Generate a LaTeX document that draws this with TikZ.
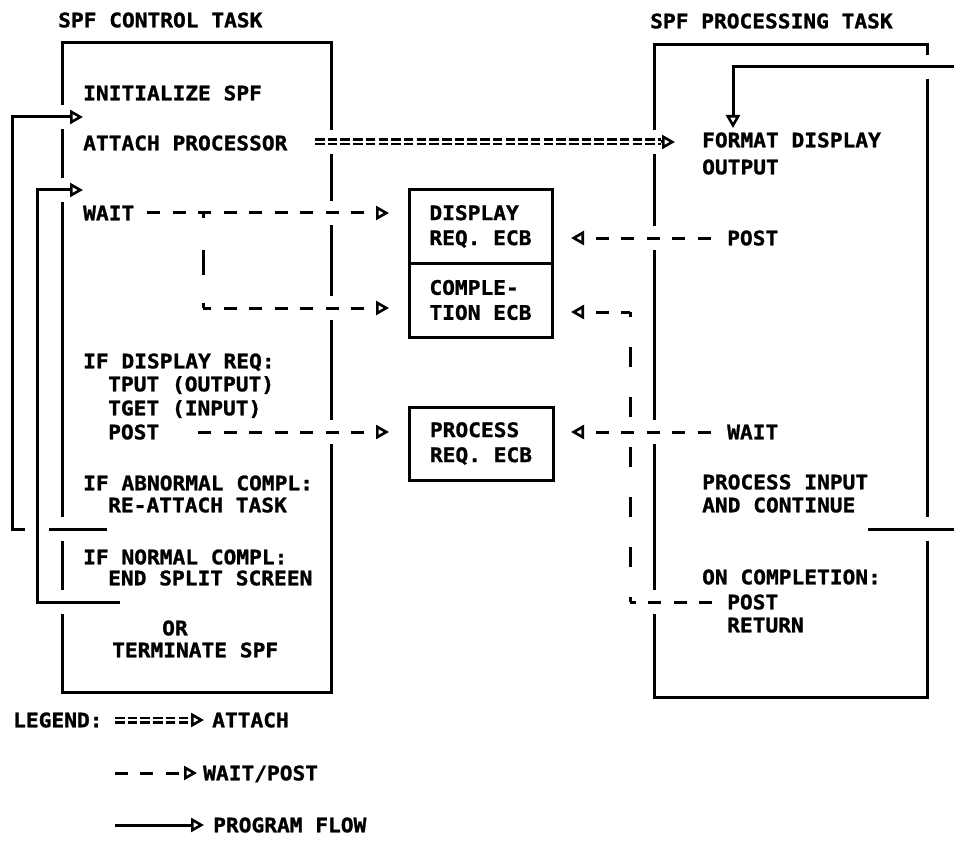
\documentclass[tikz,border=0pt]{standalone}
\usepackage{fontspec}
\usetikzlibrary{arrows.meta}
\newfontfamily\plotfont{DejaVu Sans Mono}[FakeStretch=1.06, BoldFeatures={FakeBold=1.2}]
\newcommand\plotlbl{\plotfont\bfseries\fontsize{20}{25}\selectfont}
\tikzset{
  >={Triangle[open,length=13pt,width=14pt,line width=2.6pt]},
  ln/.style={line width=3pt},
  taskbox/.style={draw, ln, inner sep=0pt},
  ecb/.style={draw, ln, inner sep=0pt, align=left, font=\plotlbl},
  txt/.style={anchor=west, inner sep=0pt, text height=14.6pt, text depth=0pt, font=\plotlbl},
  halo/.style={preaction={draw=white, solid, line width=24pt, arrows=-}},
  flow/.style={ln, ->},
  wpline/.style={ln, dash pattern=on 13pt off 12.5pt, dash phase=13pt},
  wparrow/.style={wpline, <-},
  eqline/.style={preaction={draw=white, line width=24pt},
    postaction={draw, double=white, double distance=2.2pt, line width=2.4pt,
      dash pattern=on 9.5pt off 3.2pt}},
}
\begin{document}
\begin{tikzpicture}[x=1pt,y=-1pt]
\fill[white] (0,0) rectangle (954,848);
\useasboundingbox (0,0) rectangle (954,848);

% the two tasks
\node[taskbox, minimum width=269pt, minimum height=649pt] (ctl) at (196.5,367.5) {};
\node[taskbox, minimum width=273pt, minimum height=652pt] (prc) at (790.5,371) {};

% event control blocks
\node[ecb, minimum width=143pt, minimum height=73pt] (dsp) at (480.5,226.5) {DISPLAY\\REQ. ECB};
\node[ecb, minimum width=143pt, minimum height=74pt] (cmp) at (480.5,300) {COMPLE-\\TION ECB};
\node[ecb, minimum width=144pt, minimum height=73pt] (prq) at (481,443.5) {PROCESS\\REQ. ECB};

% titles
\node[txt] (tctl) at (58,20) {SPF CONTROL TASK};
\node[txt] (tprc) at (650,21) {SPF PROCESSING TASK};

% control task steps
\node[txt] (init) at (83,93) {INITIALIZE SPF};
\node[txt] (att) at (83,143) {ATTACH PROCESSOR};
\node[txt] (wt1) at (83,213) {WAIT};
\node[txt] (ifd) at (83,361) {IF DISPLAY REQ:};
\node[txt] (tput) at (108,384) {TPUT (OUTPUT)};
\node[txt] (tget) at (108,408) {TGET (INPUT)};
\node[txt] (pst1) at (108,432) {POST};
\node[txt] (ifab) at (83,483) {IF ABNORMAL COMPL:};
\node[txt] (reat) at (108,505) {RE-ATTACH TASK};
\node[txt] (ifn) at (83,557) {IF NORMAL COMPL:};
\node[txt] (ends) at (108,578) {END SPLIT SCREEN};
\node[txt] (orr) at (162,628) {OR};
\node[txt] (term) at (112,650) {TERMINATE SPF};

% processing task steps
\node[txt] (fmt) at (702,140) {FORMAT DISPLAY};
\node[txt] (outp) at (702,167) {OUTPUT};
\node[txt] (pst2) at (727,238) {POST};
\node[txt] (wt2) at (727,432) {WAIT};
\node[txt] (pin) at (702,482) {PROCESS INPUT};
\node[txt] (cont) at (702,505) {AND CONTINUE};
\node[txt] (onc) at (702,577) {ON COMPLETION:};
\node[txt] (pst3) at (727,602) {POST};
\node[txt] (ret) at (727,625) {RETURN};

% connector end points
\coordinate (aS) at (315,142); \coordinate (aB) at (661,142); \coordinate (aT) at (675,142);
\coordinate (rS) at (868,529); \coordinate (rT) at (733,128);
\coordinate (oS) at (107,529); \coordinate (oT) at (83,117);
\coordinate (iS) at (120,602); \coordinate (iT) at (83,190);
\coordinate (w1S) at (147,213); \coordinate (w1T) at (389,213);
\coordinate (tJ) at (203,213); \coordinate (tL) at (203,308); \coordinate (tT) at (389,308);
\coordinate (p1S) at (197,432); \coordinate (p1T) at (389,432);
\coordinate (p2S) at (712,238); \coordinate (p2T) at (571,238);
\coordinate (w2S) at (712,432); \coordinate (w2T) at (571,432);
\coordinate (p3S) at (712,602); \coordinate (cA) at (630,602);
\coordinate (cB) at (630,312); \coordinate (cT) at (571,312);

% attach
\path[eqline] (aS) -- (aB);
\draw[flow, halo] (aB) -- (aT);

% program flow
\draw[flow, halo] (rS) -- (975,529) -- (975,67) -- (733,67) -- (rT);
\draw[flow, halo] (oS) -- (12,529) |- (oT);
\draw[flow, halo] (iS) -- (37,602) |- (iT);

% wait / post
\draw[wparrow, halo] (w1T) -- (w1S);
\draw[wparrow, halo] (tT) -- (tL);
\draw[ln, dash pattern=on 5pt off 28pt on 25pt off 32pt on 6pt off 20pt] (tL) -- (tJ);
\draw[wparrow, halo] (p1T) -- (p1S);
\draw[wparrow, halo] (p2T) -- (p2S);
\draw[wpline, halo, dash phase=0pt] (p3S) -- (cA);
\draw[ln, dash pattern=on 20pt off 30pt, dash phase=15pt] (cA) -- (cB);
\draw[wparrow] (cT) -- (cB);
\draw[wparrow, halo] (w2T) -- (w2S);

% legend
\node[txt] (lg) at (13,720) {LEGEND:};
\node[txt] (lgA) at (212,720) {ATTACH};
\node[txt] (lgW) at (203,773) {WAIT/POST};
\node[txt] (lgP) at (213,825) {PROGRAM FLOW};
\coordinate (lAs) at (115,720); \coordinate (lAb) at (191,720); \coordinate (lAt) at (204,720);
\coordinate (lWs) at (115,773); \coordinate (lWt) at (197,773);
\coordinate (lPs) at (115,825); \coordinate (lPt) at (204,825);
\path[eqline] (lAs) -- (lAb);
\draw[flow] (lAb) -- (lAt);
\draw[wparrow, dash phase=19.5pt] (lWt) -- (lWs);
\draw[flow] (lPs) -- (lPt);
\end{tikzpicture}
\end{document}
